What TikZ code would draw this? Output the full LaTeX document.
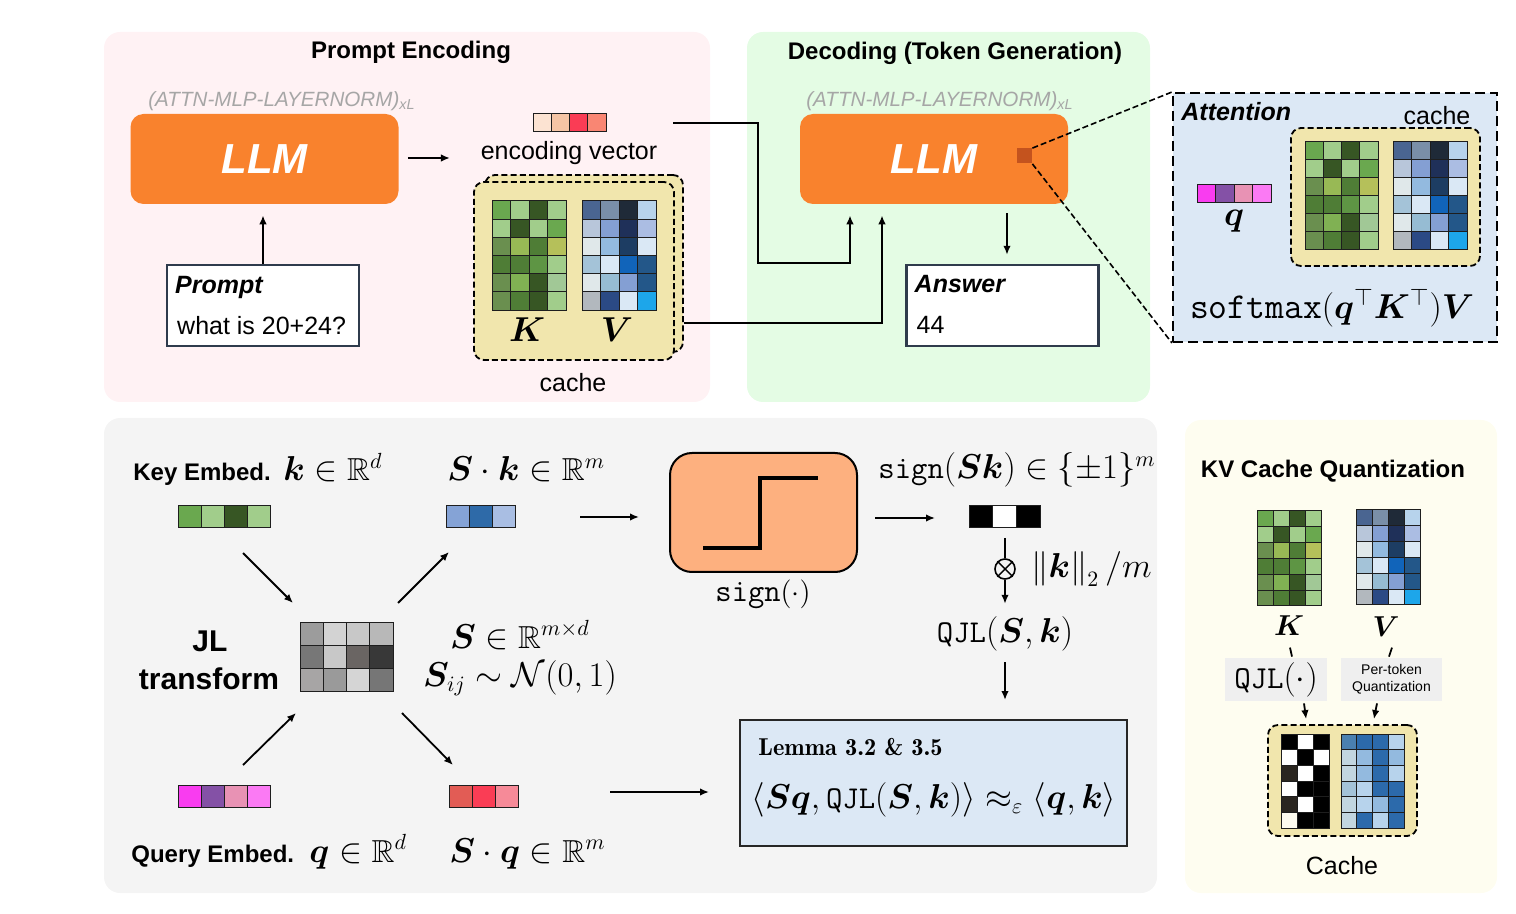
\documentclass[tikz,border=0pt]{standalone}
\usepackage{amsmath,amssymb,bm}
\usepackage[no-math]{fontspec}
\setmainfont{Liberation Sans}
\usetikzlibrary{calc,arrows.meta}
% panels and boxes
\definecolor{pinkbg}{HTML}{FFF2F4}
\definecolor{greenbg}{HTML}{E4FCE4}
\definecolor{graybg}{HTML}{F4F4F4}
\definecolor{creambg}{HTML}{FEFDF0}
\definecolor{attnbg}{HTML}{DCE8F5}
\definecolor{llmorange}{HTML}{F9822D}
\definecolor{signorange}{HTML}{FDB07F}
\definecolor{cacheyellow}{HTML}{F1E6AD}
\definecolor{lemmablue}{HTML}{DCE8F5}
\definecolor{boxframe}{HTML}{2F3B4C}
\definecolor{layergray}{HTML}{A6A6A6}
\definecolor{attnsqcol}{HTML}{C4531E}
\definecolor{lblgray}{HTML}{EFEFEF}
\definecolor{cellline}{HTML}{1E1E1E}
% key greens
\definecolor{gA}{HTML}{6AA84F}
\definecolor{gB}{HTML}{A1CD8B}
\definecolor{gC}{HTML}{375624}
\definecolor{gE}{HTML}{6A8F4F}
\definecolor{gF}{HTML}{98B955}
\definecolor{gG}{HTML}{4F7D36}
\definecolor{gH}{HTML}{B5C05A}
\definecolor{gI}{HTML}{5E9544}
\definecolor{gJ}{HTML}{80B153}
\definecolor{gK}{HTML}{A1C896}
% value blues
\definecolor{bA}{HTML}{4A6591}
\definecolor{bB}{HTML}{7A8FA8}
\definecolor{bC}{HTML}{1F2A38}
\definecolor{bD}{HTML}{B7D3EC}
\definecolor{bE}{HTML}{B8C6DA}
\definecolor{bF}{HTML}{849FD3}
\definecolor{bG}{HTML}{1F3059}
\definecolor{bH}{HTML}{ABBDE3}
\definecolor{bI}{HTML}{E0E8EA}
\definecolor{bJ}{HTML}{93BADF}
\definecolor{bK}{HTML}{1D3D63}
\definecolor{bL}{HTML}{DAE8F5}
\definecolor{bM}{HTML}{A4C3D8}
\definecolor{bN}{HTML}{1164BA}
\definecolor{bO}{HTML}{235789}
\definecolor{bP}{HTML}{96BCD3}
\definecolor{bQ}{HTML}{B2B8BE}
\definecolor{bR}{HTML}{2B4A85}
\definecolor{bS}{HTML}{1DA6EA}
\definecolor{qA}{HTML}{4A80B0}
\definecolor{qB}{HTML}{2C6AAB}
\definecolor{qC}{HTML}{C2D6E0}
\definecolor{kdark}{HTML}{2A2620}
\definecolor{kcream}{HTML}{FDFBEF}
% JL grays
\definecolor{jA}{HTML}{9C9C9C}
\definecolor{jB}{HTML}{D3D3D3}
\definecolor{jC}{HTML}{C8C8C8}
\definecolor{jD}{HTML}{B8B8B8}
\definecolor{jE}{HTML}{777777}
\definecolor{jF}{HTML}{6A6563}
\definecolor{jG}{HTML}{383838}
\definecolor{jH}{HTML}{A7A5A5}
\definecolor{jI}{HTML}{9A9A9A}
\definecolor{jJ}{HTML}{D5D5D5}
\definecolor{jK}{HTML}{767676}
% vectors
\definecolor{eA}{HTML}{FCE3D2}
\definecolor{eB}{HTML}{F5C5A5}
\definecolor{eC}{HTML}{FA3C55}
\definecolor{eD}{HTML}{F98673}
\definecolor{pA}{HTML}{F93CF0}
\definecolor{pB}{HTML}{8451A6}
\definecolor{pC}{HTML}{E892B4}
\definecolor{pD}{HTML}{FB7AF4}
\definecolor{sA}{HTML}{85A3D6}
\definecolor{sB}{HTML}{2E6AA8}
\definecolor{sC}{HTML}{A9BEE3}
\definecolor{rA}{HTML}{E25C55}
\definecolor{rB}{HTML}{FA3D55}
\definecolor{rC}{HTML}{F68A98}

% cell rows
\newcommand{\kgreens}{{gA,gB,gC,gB},{gB,gC,gB,gA},{gE,gF,gG,gH},{gG,gG,gI,gB},{gE,gJ,gC,gK},{gE,gG,gC,gB}}
\newcommand{\vblues}{{bA,bB,bC,bD},{bE,bF,bG,bH},{bI,bJ,bK,bL},{bM,bL,bN,bO},{bI,bP,bF,bO},{bQ,bR,bL,bS}}
\newcommand{\kbits}{{black,white,black},{white,black,white},{kdark,white,black},{white,black,black},{kdark,white,black},{kcream,black,black}}
\newcommand{\vquant}{{qA,qB,qB,bD},{qC,bJ,qB,bJ},{qC,bJ,qB,bD},{bM,bD,qB,qB},{qC,bD,bJ,qB},{qC,qB,bD,qB}}
\newcommand{\jlgrays}{{jA,jB,jC,jD},{jE,jC,jF,jG},{jH,jI,jJ,jK}}
\newcommand{\encrow}{{eA,eB,eC,eD}}
\newcommand{\qrow}{{pA,pB,pC,pD}}
\newcommand{\krow}{{gA,gB,gC,gB}}
\newcommand{\skrow}{{sA,sB,sC}}
\newcommand{\sqrow}{{rA,rB,rC}}
\newcommand{\bitrow}{{black,white,black}}

% #1,#2 top left, #3,#4 cell size, #5 rows
\newcommand{\cellgrid}[5]{%
  \foreach \cellrowlist [count=\ri from 0] in #5 {%
    \foreach \cellcol [count=\ci from 0] in \cellrowlist {%
      \draw[gridcell, fill=\cellcol] ({#1+\ci*#3},{#2+\ri*#4}) rectangle ++(#3,#4);
    }%
  }%
}

\begin{document}
\begin{tikzpicture}[x=0.5pt,y=-0.5pt,
  font=\fontsize{12.5}{15}\selectfont,
  paneltitle/.style={font=\fontsize{12}{14}\selectfont\bfseries},
  layertag/.style={font=\fontsize{10.3}{12}\selectfont\itshape, text=layergray},
  llmbox/.style={fill=llmorange, rounded corners=6.5pt, minimum width=134pt, minimum height=45pt,
    text=white, font=\fontsize{21}{24}\selectfont\bfseries\itshape},
  textbox/.style={draw=boxframe, line width=1.2pt, fill=white, minimum width=96pt, minimum height=40.5pt},
  boxhead/.style={font=\fontsize{12.5}{15}\selectfont\bfseries\itshape},
  basepin/.style={inner sep=0pt, anchor=base west},
  mathlbl/.style={font=\fontsize{15.9}{19}\selectfont},
  biglbl/.style={font=\fontsize{17}{20}\selectfont},
  sanslbl/.style={font=\fontsize{12}{14}\selectfont\bfseries},
  slot/.style={inner sep=0pt, outer sep=0pt},
  arr/.style={-{Latex[length=4.5pt,width=3.8pt]}, line width=0.9pt},
  cachebox/.style={fill=cacheyellow, draw=black, line width=0.9pt, dash pattern=on 3pt off 1.6pt, rounded corners=5pt},
  gridcell/.style={draw=cellline, line width=0.5pt},
  zoomline/.style={line width=0.8pt, dash pattern=on 3pt off 1.5pt},
  labelbox/.style={fill=lblgray, minimum height=21.5pt, inner sep=1pt}]
  \useasboundingbox (0,0) rectangle (1516,914);

  % ---------- Prompt encoding ----------
  \fill[pinkbg, rounded corners=8pt] (104,32) rectangle (710,402);
  \node[paneltitle] (petitle) at (411,52) {Prompt Encoding};
  \node[layertag] (pelayer) at (282,101) {(ATTN-MLP-LAYERNORM)\textsubscript{xL}};
  \node[llmbox] (pellm) at (264.5,159) {LLM};
  % Prompt box
  \node[textbox] (prompt) at (263,305.5) {};
  \node[boxhead, basepin] (prompthead) at ($(prompt.north west)+(9,30)$) {Prompt};
  \node[basepin] (prompttext) at ($(prompt.north west)+(11,71)$) {what is 20+24?};
  \draw[arr] (prompt.north) -- ($(pellm.south)+(-1.5,11)$);
  % Encoding vector
  \node[slot, minimum width=36.5pt, minimum height=9pt] (encv) at (569.5,123) {};
  \cellgrid{533}{114}{18.25}{18}{\encrow}
  \node (enclbl) at (569,153) {encoding vector};
  \draw[arr] ($(pellm.east)+(9,-1)$) -- +(42,0);
  % Cache
  \node[cachebox, minimum width=99pt, minimum height=88.5pt] (pecacheback) at (584,263.5) {};
  \node[cachebox, minimum width=100pt, minimum height=89pt] (pecache) at (574,271) {};
  \cellgrid{492}{201}{18.5}{18.2}{\kgreens}
  \cellgrid{582}{201}{18.5}{18.2}{\vblues}
  \node[biglbl] (pecK) at (527,330) {$\bm{K}$};
  \node[biglbl] (pecV) at (617,330) {$\bm{V}$};
  \node (pecachelbl) at (573,383) {cache};

  % ---------- Decoding ----------
  \fill[greenbg, rounded corners=8pt] (747,32) rectangle (1150,402);
  \node[paneltitle] (detitle) at (955,53) {Decoding (Token Generation)};
  \node[layertag] (delayer) at (940,101) {(ATTN-MLP-LAYERNORM)\textsubscript{xL}};
  \node[llmbox] (dellm) at (934,159) {LLM};
  \node[fill=attnsqcol, minimum size=7.5pt, inner sep=0pt] (attsq) at (1024.5,156) {};
  % Answer box
  \node[textbox] (answer) at (1002.5,305.5) {};
  \node[boxhead, basepin] (answerhead) at ($(answer.north west)+(9,29)$) {Answer};
  \node[basepin] (answertext) at ($(answer.north west)+(11,70)$) {44};
  \draw[arr] ($(dellm.south -| answer.north)+(4.5,9)$) -- ($(answer.north)+(4.5,-9)$);
  % Inputs into decoding LLM
  \draw[arr] ($(encv.east)+(67,0)$) -| ++(85,140) -| ($(dellm.south)+(-84,11)$);
  \draw[arr] ($(pecacheback.east)+(0,59.5)$) -| ($(dellm.south)+(-52,11)$);

  % ---------- Attention zoom ----------
  \node[fill=attnbg, draw=black, line width=1pt, dash pattern=on 5pt off 2.5pt,
    minimum width=162pt, minimum height=124.5pt] (attn) at (1335,217.5) {};
  \draw[zoomline] (attsq.north east) -- (attn.north west);
  \draw[zoomline] (attsq.south east) -- (attn.south west);
  \node[boxhead, basepin] (attnhead) at (1181,121) {Attention};
  \node (attncachelbl) at (1437,116) {cache};
  \node[cachebox, minimum width=94.5pt, minimum height=69pt] (attncache) at (1385.5,197) {};
  \cellgrid{1305}{142}{18.25}{18}{\kgreens}
  \cellgrid{1393}{142}{18.5}{18}{\vblues}
  \node[slot, minimum width=37pt, minimum height=9pt] (attqv) at (1234,194) {};
  \cellgrid{1197}{185}{18.5}{18}{\qrow}
  \node[font=\fontsize{16}{19}\selectfont] (attnq) at (1234,221) {$\bm{q}$};
  \node[font=\fontsize{18.3}{21}\selectfont] (softmax) at (1332,308) {$\texttt{softmax}(\bm{q}^\top \bm{K}^\top)\bm{V}$};

  % ---------- JL / QJL ----------
  \fill[graybg, rounded corners=8pt] (104,418) rectangle (1157,893);
  % key embedding
  \node[sanslbl, basepin] (keytxt) at (133,481) {Key Embed.};
  \node[mathlbl, basepin] (keymath) at (283,481) {$\bm{k}\in\mathbb{R}^d$};
  \node[slot, minimum width=46pt, minimum height=11pt] (kvec) at (224,517) {};
  \cellgrid{178}{506}{23}{22}{\krow}
  % JL matrix
  \node[font=\fontsize{15}{18}\selectfont\bfseries] (jltxt) at (210,641) {JL};
  \node[font=\fontsize{15}{18}\selectfont\bfseries] (jltxt2) at (209,679) {transform};
  \node[slot, minimum width=46.5pt, minimum height=35pt] (jlmat) at (346.5,657) {};
  \cellgrid{300}{622}{23.25}{23.33}{\jlgrays}
  \node[mathlbl] (smat) at (520,635) {$\bm{S}\in\mathbb{R}^{m\times d}$};
  \node[mathlbl] (sdist) at (520,678) {$\bm{S}_{ij}\sim\mathcal{N}(0,1)$};
  % projected key
  \node[mathlbl, basepin] (skmath) at (447,481) {$\bm{S}\cdot\bm{k}\in\mathbb{R}^m$};
  \node[slot, minimum width=35pt, minimum height=11pt] (skvec) at (481,517) {};
  \cellgrid{446}{506}{23.33}{22}{\skrow}
  % query embedding
  \node[slot, minimum width=46pt, minimum height=11pt] (qvec) at (224,796) {};
  \cellgrid{178}{785}{23}{22}{\qrow}
  \node[sanslbl, basepin] (querytxt) at (131,862) {Query Embed.};
  \node[mathlbl, basepin] (querymath) at (309,862) {$\bm{q}\in\mathbb{R}^d$};
  % projected query
  \node[slot, minimum width=34.5pt, minimum height=11pt] (sqvec) at (483.5,796) {};
  \cellgrid{449}{785}{23}{22}{\sqrow}
  \node[mathlbl, basepin] (sqmath) at (449,862) {$\bm{S}\cdot\bm{q}\in\mathbb{R}^m$};
  % JL arrows
  \draw[arr] ($(kvec.south)+(19,25)$) -- ($(jlmat.north west)+(-7,-19)$);
  \draw[arr] ($(qvec.north)+(19,-20)$) -- ($(jlmat.south west)+(-4,21)$);
  \draw[arr] ($(jlmat.north east)+(5,-19)$) -- ($(skvec.south)+(-32,24)$);
  \draw[arr] ($(jlmat.south east)+(9,21)$) -- ($(sqvec.north)+(-30.5,-20)$);
  % sign function
  \node[fill=signorange, draw=black, line width=1pt, rounded corners=11pt,
    minimum width=93.5pt, minimum height=59.5pt] (signbox) at (763.5,512.5) {};
  \draw[line width=2pt] ($(signbox.center)+(-60.5,35.5)$) -- ++(57,0) -- ++(0,-70) -- ++(58,0);
  \node[font=\fontsize{15.8}{18}\selectfont] (signlbl) at (763,594) {$\texttt{sign}(\cdot)$};
  \draw[arr] ($(skvec.east)+(64,0)$) -- ($(signbox.west)+(-30,4.5)$);
  % sign bits
  \node[mathlbl] (bitsmath) at (1017,470) {$\texttt{sign}(\bm{S}\bm{k})\in\{\pm 1\}^m$};
  \node[slot, minimum width=35.5pt, minimum height=11pt] (bits) at (1004.5,517) {};
  \cellgrid{969}{506}{23.67}{22}{\bitrow}
  \draw[arr] ($(signbox.east)+(17,5.5)$) -- ($(bits.west)+(-34,1)$);
  \node[draw, circle, minimum size=10pt, inner sep=0pt, line width=0.8pt] (otimes) at (1005,569) {};
  \draw[line width=0.7pt] (otimes.north east) -- (otimes.south west) (otimes.north west) -- (otimes.south east);
  \draw[line width=0.9pt] ($(bits.south)+(0.5,10)$) -- (otimes.north);
  \draw[arr] (otimes.south) -- ($(otimes.south)+(0,24)$);
  \node[mathlbl, anchor=west, inner sep=0pt] (normlbl) at (1031,569) {$\left\|\bm{k}\right\|_2 /m$};
  \node[mathlbl] (qjl) at (1005,634) {$\texttt{QJL}(\bm{S},\bm{k})$};
  \draw[arr] ($(qjl.center)+(0,28)$) -- ($(qjl.center)+(0,66)$);
  % lemma
  \node[fill=lemmablue, draw=black!85, line width=1pt, minimum width=193.5pt, minimum height=63pt] (lemma) at (933.5,783) {};
  \node[basepin, font=\fontfamily{lmr}\fontsize{12.2}{14}\selectfont\bfseries] (lemmahead) at (758,755) {Lemma 3.2 \& 3.5};
  \node[mathlbl] (lemmaeq) at (934,800) {$\langle \bm{S}\bm{q}, \texttt{QJL}(\bm{S},\bm{k})\rangle \approx_{\varepsilon} \langle \bm{q},\bm{k}\rangle$};
  \draw[arr] ($(sqvec.east)+(92,-4)$) -- ($(lemma.west)+(-30,9)$);

  % ---------- KV cache quantization ----------
  \fill[creambg, rounded corners=8pt] (1185,420) rectangle (1497,893);
  \node[sanslbl] (kvtitle) at (1333,471) {KV Cache Quantization};
  \cellgrid{1257}{511}{16}{15.8}{\kgreens}
  \cellgrid{1356}{510}{16}{15.8}{\vblues}
  \node[font=\fontsize{15}{18}\selectfont] (kvK) at (1289,626) {$\bm{K}$};
  \node[font=\fontsize{15}{18}\selectfont] (kvV) at (1386,627) {$\bm{V}$};
  \node[labelbox, minimum width=51pt, font=\fontsize{16}{18}\selectfont] (qjlbox) at (1276,679.5) {$\texttt{QJL}(\cdot)$};
  \node[labelbox, minimum width=50.5pt, align=center, font=\fontsize{7}{8.5}\selectfont] (ptqbox) at (1391.5,679.5) {Per-token\\Quantization};
  \node[cachebox, minimum width=74.5pt, minimum height=55.5pt] (kvcache) at (1342.5,780.5) {};
  \cellgrid{1281}{734}{16}{15.7}{\kbits}
  \cellgrid{1341}{734}{15.8}{15.7}{\vquant}
  \node (kvcachelbl) at (1342,866) {Cache};
  \draw[line width=0.9pt] ($(qjlbox.north)+(14,-10)$) -- ($(qjlbox.north)+(16,-1)$);
  \draw[arr] ($(qjlbox.south)+(28,2)$) -- ($(kvcache.north west)+(39,-5)$);
  \draw[line width=0.9pt] ($(ptqbox.north)+(0.5,-10)$) -- ($(ptqbox.north)+(-2.5,-1)$);
  \draw[arr] ($(ptqbox.south)+(-14.5,2)$) -- ($(kvcache.north east)+(-44,-5)$);
\end{tikzpicture}
\end{document}
